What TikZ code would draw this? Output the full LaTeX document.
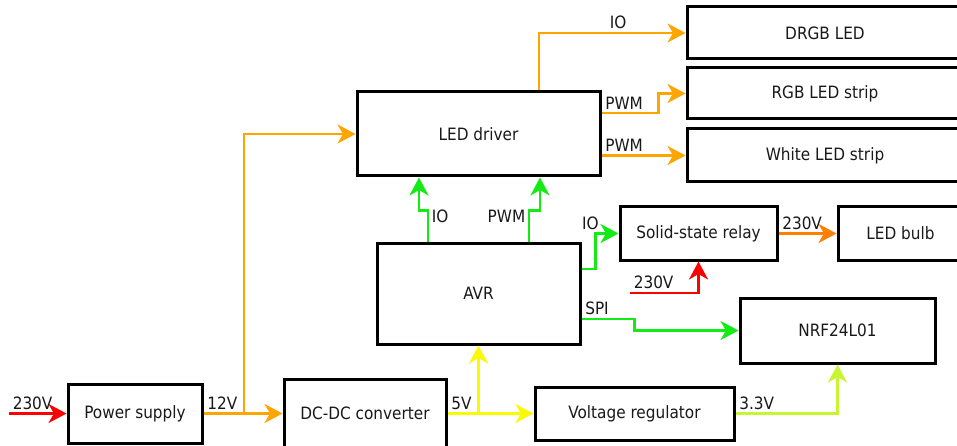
\documentclass[tikz,border=0pt]{standalone}
\usepackage{fontspec}
\setmainfont{DejaVu Sans Condensed}
\usetikzlibrary{positioning,arrows.meta,calc}
\definecolor{cOr}{RGB}{255,165,0}
\definecolor{cOrDk}{RGB}{255,128,0}
\definecolor{cGrn}{RGB}{20,235,20}
\definecolor{cRed}{RGB}{255,0,0}
\definecolor{cYel}{RGB}{250,250,0}
\definecolor{cYG}{RGB}{200,245,50}

\begin{document}
\begin{tikzpicture}[x=1pt,y=-1pt,font=\fontsize{17}{20}\selectfont,
  >={Stealth[length=18pt,width=19pt,inset=5.5pt]},
  b/.style 2 args={draw,line width=3pt,inner sep=0pt,text=black!90,
    minimum width=#1,minimum height=#2},
  wire/.style={->,line width=2.6pt},
  lbl/.style={inner sep=2.5pt,text=black!90}]
  \useasboundingbox (0,0) rectangle (957,446);
  % power chain
  \node[b={134pt}{59pt}] (ps) at (135,413.5) {Power supply};
  \node[b={162pt}{69pt}] (dcdc) at (365,413.5) {DC-DC converter};
  \node[b={199pt}{53pt}] (vreg) at (634.5,413.5) {Voltage regulator};
  \node[b={195pt}{65pt}] (nrf) at (837.5,330.5) {NRF24L01};
  \node[b={203pt}{101pt}] (avr) at (478.5,293.5) {AVR};
  \node[b={157pt}{53pt}] (relay) at (698.5,233.5) {Solid-state relay};
  \node[b={125pt}{53pt},right=58pt of relay] (bulb) {LED bulb};
  % LEDs
  \node[b={243pt}{84pt}] (driver) at (478.5,134) {LED driver};
  \node[b={276pt}{52pt}] (drgb) at (825,33) {DRGB LED};
  \node[b={276pt}{51pt},below=6pt of drgb] (rgb) {RGB LED strip};
  \node[b={276pt}{53pt},below=7pt of rgb] (white) {White LED strip};

  \coordinate (mains) at (9,413.5);
  \coordinate (mains2) at (630,293);
  \coordinate (j12) at (244,413.5);
  \coordinate (j5) at (avr.south |- dcdc.east);

  \draw[wire,cRed] (mains) -- node[lbl,above right,pos=0]{230V} (ps);
  \draw[wire,cOr] (ps) -- node[lbl,above right,pos=0]{12V} (dcdc);
  \draw[wire,cOr] (j12) |- (driver);
  \draw[wire,cYel] (dcdc) -- node[lbl,above right,pos=0]{5V} (vreg);
  \draw[wire,cYel] (j5) -- (avr);
  \draw[wire,cYG] (vreg) -| node[lbl,above right,pos=0]{3.3V} (nrf);
  \draw[wire,cGrn] ([yshift=-25.5pt]avr.east) -- node[lbl,above right,pos=0]{SPI} ++(53,0) |- (nrf);
  \draw[wire,cGrn] ([yshift=24.5pt]avr.east) -- ++(14,0) |- node[lbl,above,pos=0.5,xshift=-5pt]{IO} (relay);
  \draw[wire,cOrDk] (relay) -- node[lbl,above right,pos=0]{230V} (bulb);
  \draw[wire,cRed] (mains2) -| node[lbl,above right,pos=0]{230V} (relay);
  \draw[wire,cGrn] ([xshift=-50.5pt]avr.north) -- node[lbl,right,pos=0.8]{IO} ++(0,-31) -| ([xshift=-59.5pt]driver.south);
  \draw[wire,cGrn] ([xshift=50.5pt]avr.north) -- node[lbl,left,pos=0.8]{PWM} ++(0,-31) -| ([xshift=61.5pt]driver.south);
  \draw[wire,cOr] ([xshift=60.5pt]driver.north) |- node[lbl,above,pos=0.77]{IO} (drgb);
  \draw[wire,cOr] ([yshift=21pt]driver.east) -- node[lbl,above right,pos=0]{PWM} ++(57,0) |- (rgb);
  \draw[wire,cOr] (driver.east |- white.west) -- node[lbl,above right,pos=0]{PWM} (white.west);
\end{tikzpicture}
\end{document}
